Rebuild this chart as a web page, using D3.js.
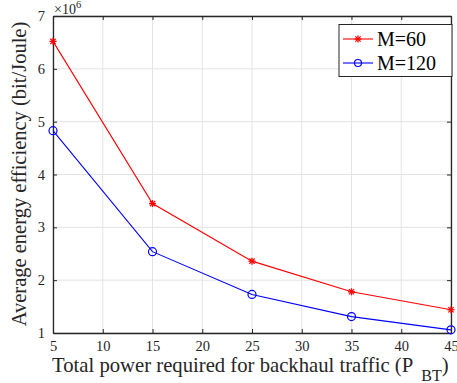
<!DOCTYPE html>
<html><head><meta charset="utf-8">
<script src="https://cdn.jsdelivr.net/npm/d3@7"></script>
<style>body{margin:0;background:#fff}</style>
</head><body>
<svg id="c" width="457" height="383"></svg>
<script>
const xValues = [5, 15, 25, 35, 45];
const m60 = [6.52, 3.45, 2.36, 1.78, 1.44];
const m120 = [4.83, 2.54, 1.73, 1.31, 1.06];
const xTicks = [5, 10, 15, 20, 25, 30, 35, 40, 45];
const yTicks = [1, 2, 3, 4, 5, 6, 7];
const seriesNames = ["M=60", "M=120"];

const svg = d3.select("#c");
const L = 53, R = 451, T = 16, B = 333;
const x = d3.scaleLinear().domain([5, 45]).range([L, R]);
const y = d3.scaleLinear().domain([1, 7]).range([B, T]);
const serifFam = "Liberation Serif";
const axisColor = "#262626";

// grid
const g = svg.append("g");
g.selectAll(".gx").data(xTicks).enter().append("line")
  .attr("x1", d => x(d)).attr("x2", d => x(d)).attr("y1", T).attr("y2", B)
  .attr("stroke", "#e3e3e3").attr("stroke-width", 1);
g.selectAll(".gy").data(yTicks).enter().append("line")
  .attr("x1", L).attr("x2", R).attr("y1", d => y(d)).attr("y2", d => y(d))
  .attr("stroke", "#e3e3e3").attr("stroke-width", 1);

// axes
const fmt = d3.format("d");
const xAxis = d3.axisBottom(x).tickValues(xTicks).tickFormat(fmt).tickSizeInner(-4).tickSizeOuter(0).tickPadding(8);
const yAxis = d3.axisLeft(y).tickValues(yTicks).tickFormat(fmt).tickSizeInner(-4).tickSizeOuter(0).tickPadding(8);
const xa = svg.append("g").attr("transform", `translate(0,${B})`).call(xAxis);
const ya = svg.append("g").attr("transform", `translate(${L},0)`).call(yAxis);
const xTop = svg.append("g").attr("transform", `translate(0,${T})`).call(d3.axisTop(x).tickValues(xTicks).tickSizeInner(-4).tickSizeOuter(0).tickFormat(""));
const yRight = svg.append("g").attr("transform", `translate(${R},0)`).call(d3.axisRight(y).tickValues(yTicks).tickSizeInner(-4).tickSizeOuter(0).tickFormat(""));
[xa, ya, xTop, yRight].forEach(a => {
  a.attr("font-family", serifFam).attr("font-size", 14.5);
  a.select(".domain").attr("stroke", axisColor).attr("stroke-width", 1.3);
  a.selectAll(".tick line").attr("stroke", axisColor);
  a.selectAll("text").attr("fill", axisColor).attr("font-family", serifFam).attr("font-size", 14.5);
});
xa.selectAll("text").attr("dy", "0.66em");

// exponent
const ex = svg.append("text").attr("x", L + 1).attr("y", 13.5).attr("fill", axisColor)
  .attr("font-family", serifFam).attr("font-size", 14);
ex.append("tspan").text("×10");
ex.append("tspan").attr("dy", -6).attr("font-size", 10.5).text("6");

// lines
const line = d3.line().x((d, i) => x(xValues[i])).y(d => y(d));
svg.append("path").datum(m60).attr("d", line).attr("fill", "none").attr("stroke", "#ff0000").attr("stroke-width", 1.1);
svg.append("path").datum(m120).attr("d", line).attr("fill", "none").attr("stroke", "#0000ff").attr("stroke-width", 1.1);

function star(sel, cx, cy, col) {
  const r = 3.5;
  const gg = sel.append("g").attr("stroke", col).attr("stroke-width", 1.3);
  gg.append("line").attr("x1", cx - r).attr("x2", cx + r).attr("y1", cy).attr("y2", cy);
  gg.append("line").attr("x1", cx).attr("x2", cx).attr("y1", cy - r).attr("y2", cy + r);
  gg.append("line").attr("x1", cx - r * 0.75).attr("x2", cx + r * 0.75).attr("y1", cy - r * 0.75).attr("y2", cy + r * 0.75);
  gg.append("line").attr("x1", cx - r * 0.75).attr("x2", cx + r * 0.75).attr("y1", cy + r * 0.75).attr("y2", cy - r * 0.75);
}
m60.forEach((v, i) => star(svg, x(xValues[i]), y(v), "#ff0000"));
svg.selectAll(".circ").data(m120).enter().append("circle")
  .attr("cx", (d, i) => x(xValues[i])).attr("cy", d => y(d)).attr("r", 4)
  .attr("fill", "none").attr("stroke", "#0000ff").attr("stroke-width", 1.2);

// legend
const lg = svg.append("g");
lg.append("rect").attr("x", 339).attr("y", 24.5).attr("width", 113).attr("height", 52)
  .attr("fill", "#fff").attr("stroke", axisColor).attr("stroke-width", 1);
const lcols = ["#ff0000", "#0000ff"];
seriesNames.forEach((n, i) => {
  const yy = 39 + i * 24;
  lg.append("line").attr("x1", 343).attr("x2", 373).attr("y1", yy).attr("y2", yy).attr("stroke", lcols[i]).attr("stroke-width", 1.1);
  if (i === 0) star(lg, 358, yy, lcols[i]);
  else lg.append("circle").attr("cx", 358).attr("cy", yy).attr("r", 3.5).attr("fill", "none").attr("stroke", lcols[i]).attr("stroke-width", 1.2);
  lg.append("text").attr("x", 377).attr("y", yy + 7).text(n).attr("fill", "#000")
    .attr("font-family", serifFam).attr("font-size", 20);
});

// axis labels
const xl = svg.append("text").attr("x", 52).attr("y", 372).attr("fill", axisColor)
  .attr("font-family", serifFam).attr("font-size", 20.7);
xl.append("tspan").text("Total power required for backhaul traffic (P");
xl.append("tspan").attr("dy", 8.5).attr("dx", 8).attr("font-size", 16).text("BT");
xl.append("tspan").attr("dy", -8.5).text(")");

svg.append("text").attr("transform", `translate(26,174) rotate(-90)`)
  .attr("text-anchor", "middle").attr("fill", axisColor)
  .attr("font-family", serifFam).attr("font-size", 20.5)
  .text("Average energy efficiency (bit/Joule)");
</script>
</body></html>
